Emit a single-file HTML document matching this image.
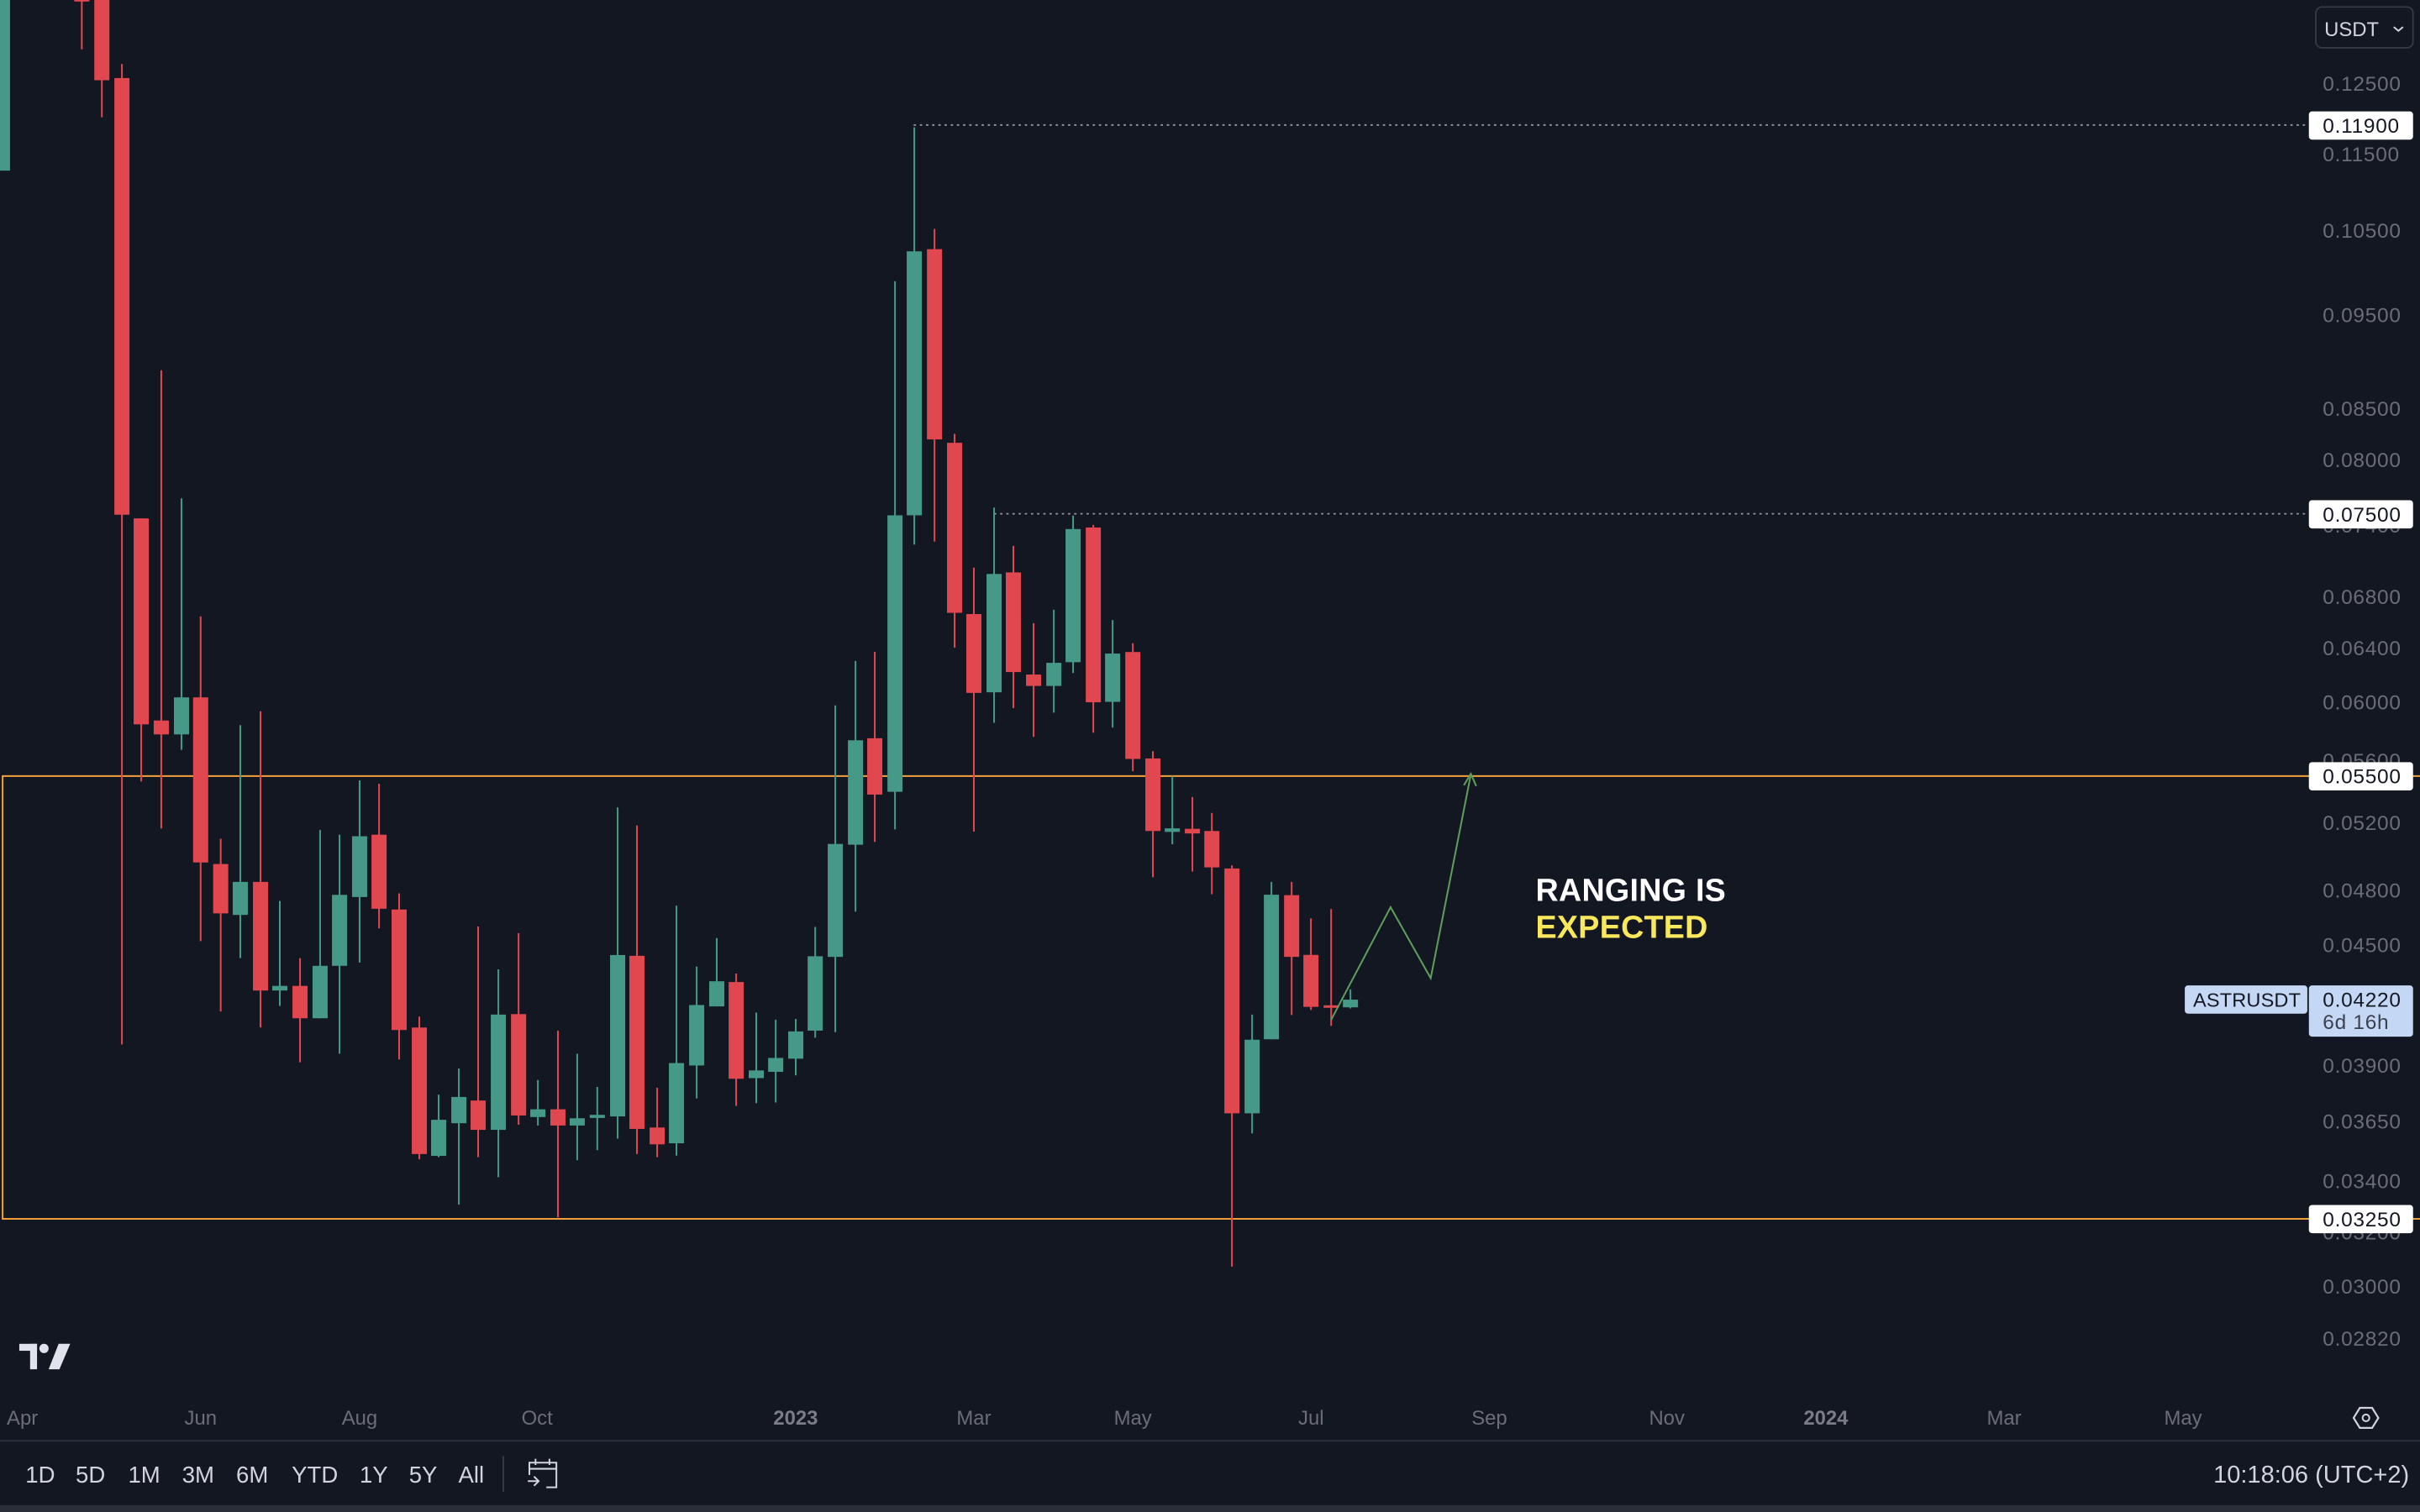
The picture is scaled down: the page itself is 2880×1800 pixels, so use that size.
<!DOCTYPE html>
<html><head><meta charset="utf-8"><style>
html,body{margin:0;padding:0;background:#131722;}
svg{display:block;}
</style></head><body>
<svg width="2880" height="1800" viewBox="0 0 1568 980" xmlns="http://www.w3.org/2000/svg" font-family="'Liberation Sans', sans-serif">
<rect x="0" y="0" width="1568" height="980" fill="#131722"/>

<!-- dotted level lines -->
<line x1="592" y1="81" x2="1496" y2="81" stroke="#9598a1" stroke-width="1" stroke-dasharray="1.5 2.5"/>
<line x1="644" y1="333" x2="1496" y2="333" stroke="#9598a1" stroke-width="1" stroke-dasharray="1.5 2.5"/>

<!-- range box -->
<rect x="1.7" y="503" width="1600" height="287" fill="none" stroke="#f0a03c" stroke-width="1.1"/>

<!-- red candles -->
<g fill="#e0474f">
<rect x="52.45" y="-5" width="1.1" height="37"/><rect x="48.1" y="-5" width="9.8" height="6"/>
<rect x="65.45" y="-5" width="1.1" height="81"/><rect x="61.1" y="-5" width="9.8" height="57"/>
<rect x="78.45" y="41.5" width="1.1" height="635.5"/><rect x="74.1" y="50.6" width="9.8" height="283"/>
<rect x="90.95" y="336" width="1.1" height="170.5"/><rect x="86.6" y="336" width="9.8" height="133.5"/>
<rect x="103.95" y="240" width="1.1" height="297"/><rect x="99.6" y="467" width="9.8" height="9"/>
<rect x="129.45" y="399.5" width="1.1" height="210.5"/><rect x="125.1" y="452" width="9.8" height="107"/>
<rect x="142.45" y="543.6" width="1.1" height="112"/><rect x="138.1" y="560" width="9.8" height="32"/>
<rect x="168.25" y="461" width="1.1" height="205"/><rect x="163.9" y="571.6" width="9.8" height="70.4"/>
<rect x="193.85" y="621" width="1.1" height="67.5"/><rect x="189.5" y="639" width="9.8" height="21"/>
<rect x="245.05" y="508" width="1.1" height="93.7"/><rect x="240.7" y="541" width="9.8" height="48"/>
<rect x="258.05" y="579" width="1.1" height="107.7"/><rect x="253.7" y="589.5" width="9.8" height="78.1"/>
<rect x="271.15" y="658.9" width="1.1" height="92.5"/><rect x="266.8" y="666" width="9.8" height="82"/>
<rect x="309.25" y="600.5" width="1.1" height="149.5"/><rect x="304.9" y="713.3" width="9.8" height="19"/>
<rect x="335.45" y="604.8" width="1.1" height="124.2"/><rect x="331.1" y="657.3" width="9.8" height="65.7"/>
<rect x="360.95" y="668" width="1.1" height="121"/><rect x="356.6" y="719" width="9.8" height="10.5"/>
<rect x="412.15" y="535" width="1.1" height="213"/><rect x="407.8" y="619.5" width="9.8" height="112.2"/>
<rect x="425.25" y="705" width="1.1" height="45"/><rect x="420.9" y="730.8" width="9.8" height="10.9"/>
<rect x="476.45" y="631" width="1.1" height="85.8"/><rect x="472.1" y="636.5" width="9.8" height="62.7"/>
<rect x="566.25" y="422.5" width="1.1" height="123.2"/><rect x="561.9" y="478.5" width="9.8" height="36.5"/>
<rect x="604.95" y="148.4" width="1.1" height="202.6"/><rect x="600.6" y="161.5" width="9.8" height="123.3"/>
<rect x="617.95" y="281.2" width="1.1" height="138.6"/><rect x="613.6" y="287" width="9.8" height="110.2"/>
<rect x="630.45" y="367.9" width="1.1" height="171.1"/><rect x="626.1" y="398" width="9.8" height="51.1"/>
<rect x="656.05" y="353.8" width="1.1" height="105.2"/><rect x="651.7" y="371" width="9.8" height="64.6"/>
<rect x="669.15" y="403.9" width="1.1" height="73.7"/><rect x="664.8" y="437.2" width="9.8" height="7.4"/>
<rect x="707.85" y="340.2" width="1.1" height="134.7"/><rect x="703.5" y="341.9" width="9.8" height="113.3"/>
<rect x="733.45" y="416.9" width="1.1" height="83"/><rect x="729.1" y="422.6" width="9.8" height="69.3"/>
<rect x="746.45" y="486.9" width="1.1" height="81.7"/><rect x="742.1" y="491.6" width="9.8" height="47"/>
<rect x="772.05" y="516.6" width="1.1" height="48.3"/><rect x="767.7" y="537.2" width="9.8" height="3"/>
<rect x="784.65" y="526.9" width="1.1" height="52.7"/><rect x="780.3" y="538.6" width="9.8" height="23.6"/>
<rect x="797.65" y="560.9" width="1.1" height="260"/><rect x="793.3" y="562.9" width="9.8" height="158.7"/>
<rect x="836.35" y="571.6" width="1.1" height="86.3"/><rect x="832" y="580.2" width="9.8" height="40"/>
<rect x="848.85" y="595.2" width="1.1" height="59.4"/><rect x="844.5" y="618.9" width="9.8" height="33.7"/>
<rect x="861.95" y="589.2" width="1.1" height="75.7"/><rect x="857.6" y="651.6" width="9.8" height="1.6"/>
</g>

<!-- green candles -->
<g fill="#459986">
<rect x="0" y="-5" width="6.5" height="115.6"/>
<rect x="117.05" y="323" width="1.1" height="163"/><rect x="112.7" y="452" width="9.8" height="24"/>
<rect x="155.15" y="470" width="1.1" height="151"/><rect x="150.8" y="571.6" width="9.8" height="21.4"/>
<rect x="180.75" y="584" width="1.1" height="68"/><rect x="176.4" y="639" width="9.8" height="3"/>
<rect x="206.85" y="538" width="1.1" height="122"/><rect x="202.5" y="626" width="9.8" height="34"/>
<rect x="219.45" y="541" width="1.1" height="142"/><rect x="215.1" y="580" width="9.8" height="46"/>
<rect x="232.45" y="505.8" width="1.1" height="118.1"/><rect x="228.1" y="542" width="9.8" height="39.4"/>
<rect x="283.65" y="709.5" width="1.1" height="40.5"/><rect x="279.3" y="725.8" width="9.8" height="23.4"/>
<rect x="296.75" y="692.6" width="1.1" height="88.2"/><rect x="292.4" y="711" width="9.8" height="17"/>
<rect x="322.35" y="628.3" width="1.1" height="134.7"/><rect x="318" y="657.6" width="9.8" height="74.7"/>
<rect x="347.95" y="700" width="1.1" height="29.5"/><rect x="343.6" y="719" width="9.8" height="5"/>
<rect x="373.45" y="683" width="1.1" height="69"/><rect x="369.1" y="724.8" width="9.8" height="4.7"/>
<rect x="386.45" y="704.5" width="1.1" height="41"/><rect x="382.1" y="722.6" width="9.8" height="2"/>
<rect x="399.65" y="523.3" width="1.1" height="214.7"/><rect x="395.3" y="619" width="9.8" height="104.6"/>
<rect x="437.75" y="587" width="1.1" height="162"/><rect x="433.4" y="689" width="9.8" height="52"/>
<rect x="450.85" y="626.5" width="1.1" height="85.4"/><rect x="446.5" y="651.4" width="9.8" height="39.2"/>
<rect x="463.85" y="608" width="1.1" height="44.3"/><rect x="459.5" y="636" width="9.8" height="16.3"/>
<rect x="489.45" y="656.3" width="1.1" height="58.7"/><rect x="485.1" y="693.8" width="9.8" height="5"/>
<rect x="502.05" y="660.9" width="1.1" height="53.7"/><rect x="497.7" y="685.7" width="9.8" height="9"/>
<rect x="515.05" y="660.4" width="1.1" height="36.6"/><rect x="510.7" y="668.5" width="9.8" height="17.7"/>
<rect x="527.65" y="600.8" width="1.1" height="71.8"/><rect x="523.3" y="619.8" width="9.8" height="48.2"/>
<rect x="540.65" y="457.2" width="1.1" height="211.8"/><rect x="536.3" y="547" width="9.8" height="73.2"/>
<rect x="553.75" y="428.4" width="1.1" height="162.5"/><rect x="549.4" y="479.8" width="9.8" height="67.7"/>
<rect x="579.35" y="182.3" width="1.1" height="355.3"/><rect x="575" y="334" width="9.8" height="179.2"/>
<rect x="591.85" y="82.5" width="1.1" height="270.5"/><rect x="587.5" y="162.9" width="9.8" height="171.1"/>
<rect x="643.55" y="329" width="1.1" height="139.5"/><rect x="639.2" y="372" width="9.8" height="76.7"/>
<rect x="682.25" y="395.2" width="1.1" height="66.7"/><rect x="677.9" y="429.6" width="9.8" height="15"/>
<rect x="694.75" y="334.2" width="1.1" height="102"/><rect x="690.4" y="342.9" width="9.8" height="86.3"/>
<rect x="720.35" y="401.9" width="1.1" height="69.7"/><rect x="716" y="423.6" width="9.8" height="31.3"/>
<rect x="759.05" y="502.9" width="1.1" height="44.3"/><rect x="754.7" y="536.9" width="9.8" height="2.3"/>
<rect x="810.75" y="657.6" width="1.1" height="77"/><rect x="806.4" y="673.9" width="9.8" height="47.7"/>
<rect x="823.25" y="571.6" width="1.1" height="102"/><rect x="818.9" y="579.9" width="9.8" height="93.7"/>
<rect x="874.45" y="641.2" width="1.1" height="12.4"/><rect x="870.1" y="647.9" width="9.8" height="5"/>
</g>

<!-- projection path -->
<polyline points="862.5,661 901,588 927,634 953,502" fill="none" stroke="#5e9f5b" stroke-width="1.1"/>
<polyline points="948.5,509 953,501.5 956.5,509.5" fill="none" stroke="#5e9f5b" stroke-width="1.1"/>

<!-- annotation -->
<text x="995" y="584" font-size="20.5" font-weight="bold" fill="#ffffff" letter-spacing="0.15">RANGING IS</text>
<text x="995" y="608" font-size="20.5" font-weight="bold" fill="#f9e75c" letter-spacing="0.15">EXPECTED</text>

<!-- price axis labels -->
<g font-size="13.3" fill="#6b6e79" letter-spacing="0.4">
<text x="1505" y="58.8">0.12500</text>
<text x="1505" y="104.4">0.11500</text>
<text x="1505" y="154.1">0.10500</text>
<text x="1505" y="208.8">0.09500</text>
<text x="1505" y="269.5">0.08500</text>
<text x="1505" y="302.7">0.08000</text>
<text x="1505" y="345.3">0.07400</text>
<text x="1505" y="391.4">0.06800</text>
<text x="1505" y="424.6">0.06400</text>
<text x="1505" y="459.8">0.06000</text>
<text x="1505" y="497.5">0.05600</text>
<text x="1505" y="538">0.05200</text>
<text x="1505" y="581.8">0.04800</text>
<text x="1505" y="617">0.04500</text>
<text x="1505" y="695.2">0.03900</text>
<text x="1505" y="731.4">0.03650</text>
<text x="1505" y="770.1">0.03400</text>
<text x="1505" y="803.3">0.03200</text>
<text x="1505" y="838.5">0.03000</text>
<text x="1505" y="872.3">0.02820</text>
</g>

<!-- highlighted price labels -->
<g font-size="13.3" fill="#131722" letter-spacing="0.4">
<rect x="1496" y="72.2" width="67.5" height="18.3" rx="2" fill="#ffffff"/>
<text x="1505" y="86">0.11900</text>
<rect x="1496" y="324.2" width="67.5" height="18.3" rx="2" fill="#ffffff"/>
<text x="1505" y="338">0.07500</text>
<rect x="1496" y="494" width="67.5" height="18.3" rx="2" fill="#ffffff"/>
<text x="1505" y="507.8">0.05500</text>
<rect x="1496" y="781" width="67.5" height="18.3" rx="2" fill="#ffffff"/>
<text x="1505" y="794.8">0.03250</text>
<rect x="1415.6" y="638.7" width="79.4" height="18.3" rx="2" fill="#c4d8f5"/>
<text x="1421" y="652.5" font-size="12.8" letter-spacing="0.1">ASTRUSDT</text>
<rect x="1496" y="638.7" width="67.5" height="33.2" rx="2" fill="#c4d8f5"/>
<text x="1505" y="652.5">0.04220</text>
<text x="1505" y="667" fill="#3b4150">6d 16h</text>
</g>

<!-- USDT selector -->
<rect x="1500.5" y="4.5" width="63" height="26.5" rx="4" fill="none" stroke="#363a45" stroke-width="1"/>
<text x="1506" y="23.5" font-size="13" fill="#d1d4dc">USDT</text>
<polyline points="1551,17.5 1554,20 1557,17.5" fill="none" stroke="#d1d4dc" stroke-width="1.1"/>

<!-- time axis -->
<g font-size="13" fill="#6b6e79" text-anchor="middle">
<text x="14.5" y="923.5">Apr</text>
<text x="130" y="923.5">Jun</text>
<text x="233" y="923.5">Aug</text>
<text x="348" y="923.5">Oct</text>
<text x="515.5" y="923.5" font-weight="bold" fill="#7a7d88">2023</text>
<text x="631" y="923.5">Mar</text>
<text x="734" y="923.5">May</text>
<text x="849.5" y="923.5">Jul</text>
<text x="965" y="923.5">Sep</text>
<text x="1080" y="923.5">Nov</text>
<text x="1183" y="923.5" font-weight="bold" fill="#7a7d88">2024</text>
<text x="1298.5" y="923.5">Mar</text>
<text x="1414.5" y="923.5">May</text>
</g>

<!-- gear icon -->
<polygon points="1529,912.5 1537,912.5 1541,919 1537,925.5 1529,925.5 1525,919" fill="none" stroke="#d1d4dc" stroke-width="1.2"/>
<circle cx="1533" cy="919" r="2.2" fill="none" stroke="#d1d4dc" stroke-width="1.1"/>

<!-- TradingView logo -->
<g fill="#e0e3eb">
<rect x="12.5" y="871" width="11.5" height="4.5"/>
<rect x="19.5" y="871" width="4.5" height="16.5"/>
<circle cx="28.5" cy="874" r="3"/>
<polygon points="38,871 45.5,871 38.5,887.5 31.5,887.5"/>
</g>

<!-- bottom toolbar -->
<rect x="0" y="933.2" width="1568" height="1.2" fill="#2a2e39"/>
<g font-size="15" fill="#d1d4dc">
<text x="16.5" y="961">1D</text>
<text x="49" y="961">5D</text>
<text x="83" y="961">1M</text>
<text x="118" y="961">3M</text>
<text x="153" y="961">6M</text>
<text x="189" y="961">YTD</text>
<text x="233" y="961">1Y</text>
<text x="265" y="961">5Y</text>
<text x="297" y="961">All</text>
<text x="1561" y="961" text-anchor="end" font-size="15.8">10:18:06 (UTC+2)</text>
</g>
<rect x="325.7" y="943.7" width="0.8" height="23.3" fill="#434651"/>
<!-- calendar icon -->
<g fill="none" stroke="#d1d4dc" stroke-width="1.1">
<path d="M343,956 V948 H360.5 V964 H354"/>
<line x1="343" y1="952" x2="360.5" y2="952"/>
<line x1="347" y1="945.5" x2="347" y2="949.5"/>
<line x1="356" y1="945.5" x2="356" y2="949.5"/>
<path d="M342,960 H349 M346,957 L349,960 L346,963"/>
</g>
<rect x="0" y="975.5" width="1568" height="4.5" fill="#2a2e39"/>
</svg>
</body></html>
